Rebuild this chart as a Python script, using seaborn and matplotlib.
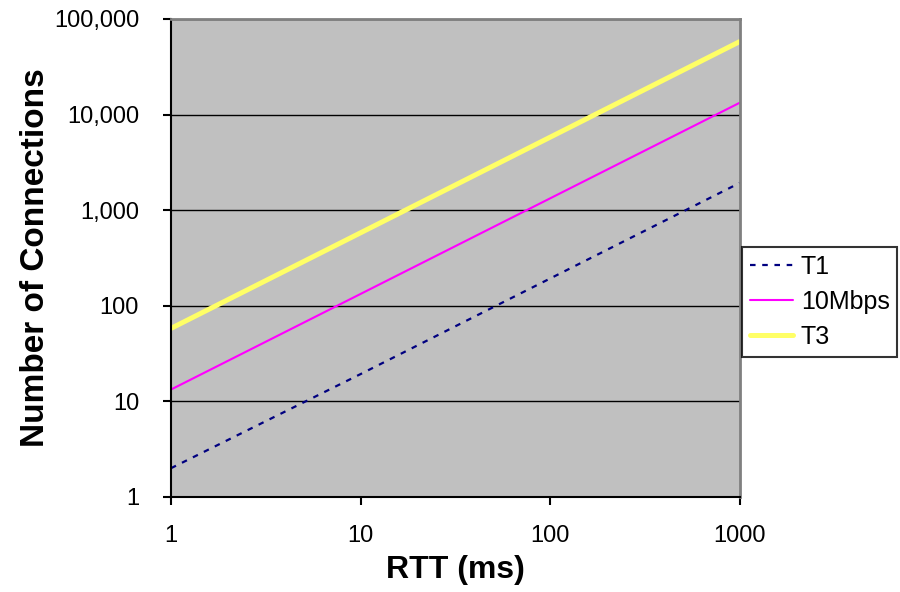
import matplotlib
matplotlib.use("Agg")
import matplotlib.pyplot as plt
import matplotlib.ticker as mticker
import pandas as pd
import seaborn as sns

# Connections needed to fill each link, by round-trip time
rtt_ms = [1, 10, 100, 1000]
t1 = [2, 19.3, 193, 1930]
mbps10 = [13.3, 133, 1330, 13300]
t3 = [58, 580, 5800, 58000]

series_names = ["T1", "10Mbps", "T3"]
series_values = [t1, mbps10, t3]
colors = {"T1": "#000080", "10Mbps": "#FF00FF", "T3": "#FFFF66"}
widths = {"T1": 1.6, "10Mbps": 1.5, "T3": 3.6}

x_ticks = [1, 10, 100, 1000]
x_tick_labels = ["1", "10", "100", "1000"]
y_ticks = [1, 10, 100, 1000, 10000, 100000]
y_tick_labels = ["1", "10", "100", "1,000", "10,000", "100,000"]

df = pd.concat(
    [pd.DataFrame({"RTT": rtt_ms, "Connections": vals, "Link": name})
     for name, vals in zip(series_names, series_values)],
    ignore_index=True,
)

sns.set_style("white")
plt.rcParams["font.family"] = ["Liberation Sans", "DejaVu Sans"]
plt.rcParams["text.color"] = "black"
plt.rcParams["axes.labelcolor"] = "black"
plt.rcParams["xtick.color"] = "black"
plt.rcParams["ytick.color"] = "black"

fig = plt.figure(figsize=(9, 5.92), dpi=100)
ax = fig.add_axes([0.19, 0.1605, 0.632, 0.8075])
ax.set_facecolor("#C0C0C0")

for name in series_names:
    sub = df[df["Link"] == name]
    sns.lineplot(
        data=sub, x="RTT", y="Connections", ax=ax,
        color=colors[name], linewidth=widths[name], label=name,
        linestyle=(0, (2.5, 3.0)) if name == "T1" else "-",
        sort=True, estimator=None,
    )

ax.set_xscale("log")
ax.set_yscale("log")
ax.set_xlim(1, 1000)
ax.set_ylim(1, 100000)

ax.set_xticks(x_ticks)
ax.set_xticklabels(x_tick_labels)
ax.set_yticks(y_ticks)
ax.set_yticklabels(y_tick_labels)
ax.xaxis.set_minor_locator(mticker.NullLocator())
ax.yaxis.set_minor_locator(mticker.NullLocator())

ax.yaxis.grid(True, color="black", linewidth=1)
ax.xaxis.grid(False)
ax.set_axisbelow(True)

ax.tick_params(axis="both", which="major", direction="out", length=6, width=1.5,
               color="black", labelcolor="black", labelsize=17, left=True, bottom=True)
ax.tick_params(axis="x", pad=14)
ax.tick_params(axis="y", pad=17)

for side in ("left", "bottom"):
    ax.spines[side].set_color("black")
    ax.spines[side].set_linewidth(1.5)
for side in ("top", "right"):
    ax.spines[side].set_color("#808080")
    ax.spines[side].set_linewidth(2)

ax.set_xlabel("RTT (ms)", fontsize=23, fontweight="bold", labelpad=6, color="black")
ax.set_ylabel("Number of Connections", fontsize=24, fontweight="bold", labelpad=2,
              color="black")

leg = ax.legend(
    loc="center left", bbox_to_anchor=(1.004, 0.408), frameon=True, fancybox=False,
    edgecolor="black", facecolor="white", fontsize=18, handlelength=1.75,
    borderpad=0.3, labelspacing=0.45, handletextpad=0.3, borderaxespad=0,
)
leg.get_frame().set_linewidth(1.5)
for text in leg.get_texts():
    text.set_color("black")

fig.savefig("out.png", dpi=100)
